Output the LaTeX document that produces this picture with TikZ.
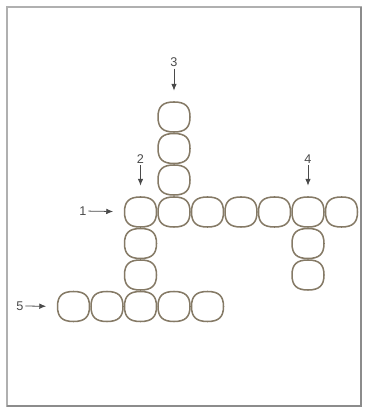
\documentclass[tikz,border=0pt]{standalone}
\usepackage{fontspec}
\setmainfont{Liberation Sans}
\usetikzlibrary{arrows.meta,positioning}
\definecolor{cCell}{HTML}{857A66}
\definecolor{cInk}{HTML}{4A4A4A}
\definecolor{cFrame}{HTML}{B0B0B0}
\definecolor{cShade}{HTML}{8C8C8C}
\tikzset{
  grid/.style={x=1cm, y=1cm},
  cell/.style={minimum width=0.8375cm, minimum height=0.7875cm, inner sep=0pt,
    path picture={\draw[cCell, line width=1.1pt, shift={(path picture bounding box.center)}]
      (0,0.375) .. controls (0.28,0.375) and (0.40,0.265) .. (0.40,0)
      .. controls (0.40,-0.265) and (0.28,-0.375) .. (0,-0.375)
      .. controls (-0.28,-0.375) and (-0.40,-0.265) .. (-0.40,0)
      .. controls (-0.40,0.265) and (-0.28,0.375) .. (0,0.375) -- cycle;}},
  num/.style={font=\fontsize{9}{10}\selectfont, text=cInk, inner sep=1.2pt},
  pointer/.style={draw=cInk, line width=0.55pt, shorten >=0.26cm, -{Latex[length=1.7mm,width=1.4mm]}},
  frame/.style={draw=cFrame, line width=1.1pt},
}

\begin{document}
\begin{tikzpicture}[grid]
% page 368x411 px at 0.025cm per px; column pitch 0.8375, row pitch 0.7875
\useasboundingbox (0,0) rectangle (9.2,10.275);
\draw[frame] (0.175,0.125) rectangle (9.025,10.1);
\draw[cShade, line width=1.3pt] (0.175,0.125) -- (9.025,0.125) -- (9.025,10.1);

% word 1 (across)
\node[cell] (one1) at (3.5125, 4.975) {};
\node[cell] (one2) at (4.35, 4.975)   {};
\node[cell] (one3) at (5.1875, 4.975) {};
\node[cell] (one4) at (6.025, 4.975)  {};
\node[cell] (one5) at (6.8625, 4.975) {};
\node[cell] (one6) at (7.7, 4.975)    {};
\node[cell] (one7) at (8.5375, 4.975) {};

% word 2 (down from one1 to word 5)
\node[cell] (two2) at (3.5125, 4.1875) {};
\node[cell] (two3) at (3.5125, 3.4)    {};

% word 3 (down into one2)
\node[cell] (three1) at (4.35, 7.35)   {};
\node[cell] (three2) at (4.35, 6.5625) {};
\node[cell] (three3) at (4.35, 5.775)  {};

% word 4 (down from one6)
\node[cell] (four2) at (7.7, 4.1875) {};
\node[cell] (four3) at (7.7, 3.4)    {};

% word 5 (across)
\node[cell] (five1) at (1.8375, 2.6125) {};
\node[cell] (five2) at (2.675, 2.6125)  {};
\node[cell] (five3) at (3.5125, 2.6125) {};
\node[cell] (five4) at (4.35, 2.6125)   {};
\node[cell] (five5) at (5.1875, 2.6125) {};

% clue numbers
\node[num] (n1) at (2.075, 5.0)   {1};
\node[num] (n2) at (3.5125, 6.3)  {2};
\node[num] (n3) at (4.35, 8.72)   {3};
\node[num] (n4) at (7.7, 6.3)     {4};
\node[num] (n5) at (0.5, 2.625)   {5};

\draw[pointer] (n1) -- (one1);
\draw[pointer] (n2) -- (one1);
\draw[pointer] (n3) -- (three1);
\draw[pointer] (n4) -- (one6);
\draw[pointer] (n5) -- (five1);
\end{tikzpicture}
\end{document}
